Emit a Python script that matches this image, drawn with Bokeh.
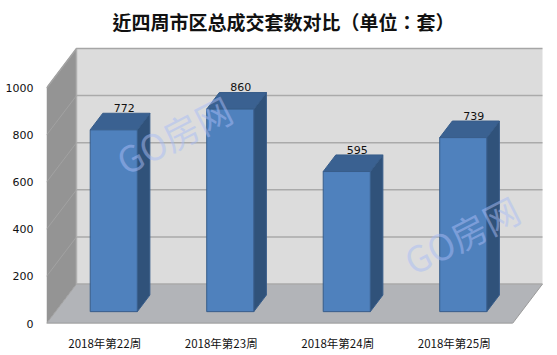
from bokeh.plotting import figure
from bokeh.models import Range1d, FixedTicker, Label
from bokeh.core.properties import value
from bokeh.embed import file_html
from bokeh.resources import INLINE

title_text = "近四周市区总成交套数对比（单位：套）"
categories = ["2018年第22周", "2018年第23周", "2018年第24周", "2018年第25周"]
counts = [772, 860, 595, 739]
y_ticks = [0, 200, 400, 600, 800, 1000]
watermark = "GO房网"

# scale: 116.5 px per category, 0.2355 px per unit
DX = 30 / 116.5      # full floor depth, in x units
DY = 39.5 / 0.2355   # full floor depth, in y units
Z0, Z1 = 0.30, 0.72  # bar extent in depth
BAR_W = 0.404
XL, XR = -0.5, 3.5
TOP = 1000

p = figure(width=541, height=339, frame_width=502, frame_height=278,
           output_backend="svg", toolbar_location=None, margin=(0, 0, 0, 2),
           x_range=Range1d(XL, XL + 502 / 116.5),
           y_range=Range1d(0, 278 / 0.2355),
           min_border_left=42, min_border_right=0, min_border_top=39, min_border_bottom=0)
p.grid.visible = False
p.outline_line_color = None
p.background_fill_color = "white"

p.title.text = title_text
p.title.text_font = "Noto Sans CJK TC"
p.title.text_font_size = "19px"
p.title.text_font_style = "bold"
p.title.text_color = "#111111"
p.title.align = "left"
p.title.vertical_align = "top"
p.title.offset = 66
p.title.standoff = 15.5

for ax in (p.xaxis[0], p.yaxis[0]):
    ax.axis_line_color = None
    ax.major_tick_line_color = None
    ax.minor_tick_line_color = None
    ax.major_tick_out = 0
    ax.major_tick_in = 0
    ax.minor_tick_out = 0
    ax.minor_tick_in = 0
    ax.major_label_text_color = "#111111"
p.yaxis[0].ticker = FixedTicker(ticks=y_ticks)
p.yaxis[0].major_label_text_font = "DejaVu Sans"
p.yaxis[0].major_label_text_font_size = "11px"
p.yaxis[0].major_label_standoff = 13
p.xaxis[0].ticker = FixedTicker(ticks=list(range(len(categories))))
p.xaxis[0].major_label_overrides = {i: c for i, c in enumerate(categories)}
p.xaxis[0].major_label_text_font = "Noto Sans CJK SC"
p.xaxis[0].major_label_text_font_size = "11.5px"
p.xaxis[0].major_label_standoff = 11

# back wall, left wall, floor
p.patch([XL + DX, XR + DX, XR + DX, XL + DX], [DY, DY, TOP + DY, TOP + DY],
        fill_color="#dcdcdc", line_color=None)
p.patch([XL, XL + DX, XL + DX, XL], [0, DY, TOP + DY, TOP],
        fill_color="#949494", line_color=None)
p.patch([XL, XR, XR + DX, XL + DX], [0, 0, DY, DY],
        fill_color="#b2b4b8", line_color=None)
p.line([XL, XR], [0, 0], line_color="#8c8c8c", line_width=1.5)
p.line([XR, XR + DX], [0, DY], line_color="#9a9a9a", line_width=1)
p.line([XL, XL + DX, XL + DX, XR + DX], [TOP, TOP + DY, TOP + DY, TOP + DY],
       line_color="#a6a6a6", line_width=1.5)
p.line([XL, XL + DX], [0, DY], line_color="#a0a0a0", line_width=1)
p.line([XL + DX, XL + DX], [DY, TOP + DY], line_color="#b0b0b0", line_width=1.5)

# grid lines across the back wall and down the left wall
for t in y_ticks:
    if t < TOP:
        p.line([XL + DX, XR + DX], [t + DY, t + DY], line_color="#aaaaaa", line_width=1.5)
    if t > 0:
        p.line([XL, XL + DX], [t, t + DY], line_color="#a2a2a2", line_width=1)

# bars
for i, v in enumerate(counts):
    l, r = i - BAR_W / 2 + Z0 * DX, i + BAR_W / 2 + Z0 * DX
    y0 = Z0 * DY
    dx, dy = (Z1 - Z0) * DX, (Z1 - Z0) * DY
    edge = "#385d8a"
    p.patch([r, r + dx, r + dx, r], [y0, y0 + dy, v + y0 + dy, v + y0],
            fill_color="#30527a", line_color=edge, line_width=1)
    p.patch([l, r, r + dx, l + dx], [v + y0, v + y0, v + y0 + dy, v + y0 + dy],
            fill_color="#3a6191", line_color=edge, line_width=1)
    p.patch([l, r, r, l], [y0, y0, v + y0, v + y0],
            fill_color="#4f81bd", line_color=edge, line_width=1)
    p.text([i + Z0 * DX + 0.09], [v + y0 + dy + 6], text=[str(v)], text_align="center",
           text_baseline="bottom", text_font=value("DejaVu Sans"),
           text_font_size="11px", text_color="#111111")

# watermarks
for wx, wy in [(0.59, 805), (3.06, 380)]:
    p.add_layout(Label(x=wx, y=wy, text=watermark, angle=27, angle_units="deg",
                       text_align="center", text_baseline="middle",
                       text_font="Noto Sans CJK SC", text_font_size="36px",
                       text_color="#a9bcf5", text_alpha=0.5))

open("out.html", "w").write(file_html(p, INLINE))
